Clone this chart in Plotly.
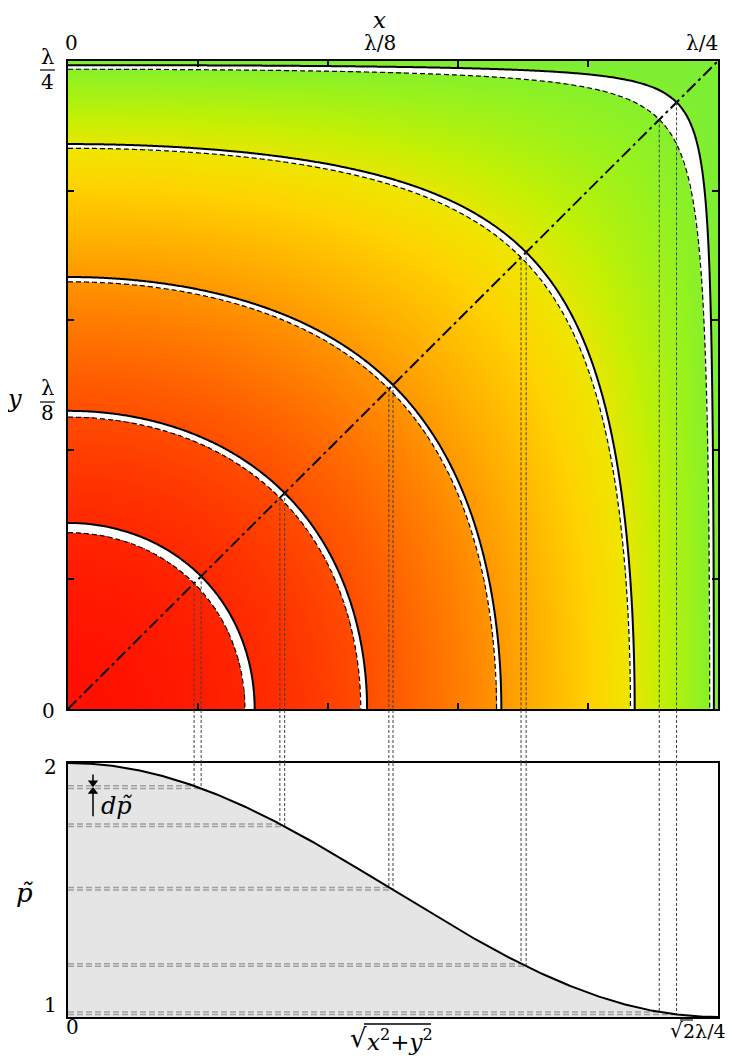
import numpy as np
import plotly.graph_objects as go

# ---------------- data ----------------
# p~ levels of the contour bands (solid = outer edge, dashed = inner edge)
solid_levels = [1.90, 1.75, 1.50, 1.20, 1.01]
dashed_levels = [1.91, 1.76, 1.51, 1.21, 1.02]
# minor tick positions (in units of wavelength): every lambda/20
tick_positions = [0.05, 0.10, 0.15, 0.20]
# axis limits (units of wavelength)
quarter = 0.25                      # lambda/4
diag_max = np.sqrt(2) * quarter     # sqrt(2) lambda/4
p_range = [1.0, 2.0]
# tick label texts
top_labels = ["0", "λ/8", "λ/4"]
bottom_labels = ["0", "√2λ/4"]
p_labels = ["2", "1"]

# ---------------- the field p~(x, y) ----------------
def field(x, y):
    return 1.0 + np.cos(2 * np.pi * x) * np.cos(2 * np.pi * y)

def profile(r):
    return 1.0 + np.cos(2 * np.pi * r / np.sqrt(2)) ** 2

N = 540
g = np.linspace(0, quarter, N)
X, Y = np.meshgrid(g, g)
Z = field(X, Y)
Zh = Z.copy()
for a, b in zip(solid_levels, dashed_levels):
    Zh[(Z >= a) & (Z <= b)] = np.nan
Zh = Zh.astype(np.float32)

gc = np.linspace(0, quarter, 241)
XC, YC = np.meshgrid(gc, gc)
ZC = field(XC, YC)

colorscale = [
    [0.00, "rgb(124,238,52)"],
    [0.05, "rgb(150,242,30)"],
    [0.14, "rgb(196,240,4)"],
    [0.22, "rgb(240,228,0)"],
    [0.30, "rgb(255,210,0)"],
    [0.42, "rgb(255,176,0)"],
    [0.55, "rgb(255,136,0)"],
    [0.70, "rgb(255,92,0)"],
    [0.85, "rgb(255,52,0)"],
    [1.00, "rgb(255,16,0)"],
]

SERIF = "DejaVu Serif"

# layout geometry (pixels); the page body adds an 8px offset
OFF = 8
W, H = 734 - OFF, 1063 - OFF
L, Rm, T, B = 68 - OFF, 16, 61 - OFF, 54 - OFF
PW = W - L - Rm
PH = H - T - B
BOT = OFF + H - B          # absolute pixel y of plot-area bottom (1009)
top_dom = [(BOT - 709) / PH, 1.0]
bot_dom = [0.0, (BOT - 763) / PH]

def px(xp):
    return (xp - OFF - L) / PW

def py(yp):
    return (BOT - yp) / PH

fig = go.Figure()

fig.add_trace(go.Heatmap(x=g, y=g, z=Zh, colorscale=colorscale, zmin=1, zmax=2,
                         showscale=False, hoverinfo="skip", xaxis="x", yaxis="y"))

for a, b in zip(solid_levels, dashed_levels):
    fig.add_trace(go.Contour(x=gc, y=gc, z=ZC, autocontour=False,
                             contours=dict(start=a, end=a, size=0.5, coloring="none"),
                             line=dict(color="black", width=2), showscale=False,
                             hoverinfo="skip", xaxis="x", yaxis="y"))
    fig.add_trace(go.Contour(x=gc, y=gc, z=ZC, autocontour=False,
                             contours=dict(start=b, end=b, size=0.5, coloring="none"),
                             line=dict(color="black", width=1.2, dash="5px,3px"),
                             showscale=False, hoverinfo="skip", xaxis="x", yaxis="y"))

# diagonal
fig.add_trace(go.Scatter(x=[0, quarter], y=[0, quarter], mode="lines",
                         line=dict(color="black", width=2, dash="12px,4px,3px,4px"),
                         hoverinfo="skip", xaxis="x", yaxis="y"))

# bottom panel: filled profile
r = np.linspace(0, diag_max, 400)
fig.add_trace(go.Scatter(x=r, y=profile(r), mode="lines", fill="tozeroy",
                         fillcolor="#e5e5e5", line=dict(width=0), hoverinfo="skip",
                         xaxis="x2", yaxis="y2"))

all_levels = solid_levels + dashed_levels
for p in all_levels:
    xd = np.arccos(np.sqrt(p - 1)) / (2 * np.pi)
    rd = np.sqrt(2) * xd
    fig.add_trace(go.Scatter(x=[0, rd], y=[p, p], mode="lines",
                             line=dict(color="#a0a0a0", width=1.5, dash="6px,3px"),
                             hoverinfo="skip", xaxis="x2", yaxis="y2"))
    fig.add_trace(go.Scatter(x=[xd, xd], y=[xd, 0], mode="lines",
                             line=dict(color="#404040", width=1, dash="3px,2px"),
                             hoverinfo="skip", xaxis="x", yaxis="y"))
    fig.add_trace(go.Scatter(x=[rd, rd], y=[p_range[1], p], mode="lines",
                             line=dict(color="#404040", width=1, dash="3px,2px"),
                             hoverinfo="skip", xaxis="x2", yaxis="y2"))
    fig.add_shape(type="line", xref="x", yref="paper", x0=xd, x1=xd,
                  y0=bot_dom[1], y1=top_dom[0],
                  line=dict(color="#404040", width=1, dash="3px,2px"))

fig.add_trace(go.Scatter(x=r, y=profile(r), mode="lines",
                         line=dict(color="black", width=2), hoverinfo="skip",
                         xaxis="x2", yaxis="y2"))

# d p~ marker arrows (pointing at the first pair of levels)
arrow_r = diag_max * 25 / 650
fig.add_trace(go.Scatter(x=[arrow_r, arrow_r], y=[dashed_levels[0] + 0.045, dashed_levels[0] + 0.012],
                         mode="lines", line=dict(color="black", width=1.5),
                         hoverinfo="skip", xaxis="x2", yaxis="y2"))
fig.add_trace(go.Scatter(x=[arrow_r], y=[dashed_levels[0] + 0.012], mode="markers",
                         marker=dict(symbol="triangle-down", size=9, color="black"),
                         hoverinfo="skip", xaxis="x2", yaxis="y2"))
fig.add_trace(go.Scatter(x=[arrow_r, arrow_r], y=[solid_levels[0] - 0.11, solid_levels[0] - 0.012],
                         mode="lines", line=dict(color="black", width=1.5),
                         hoverinfo="skip", xaxis="x2", yaxis="y2"))
fig.add_trace(go.Scatter(x=[arrow_r], y=[solid_levels[0] - 0.012], mode="markers",
                         marker=dict(symbol="triangle-up", size=9, color="black"),
                         hoverinfo="skip", xaxis="x2", yaxis="y2"))

ax_common = dict(showline=True, linewidth=2, linecolor="black", showgrid=False,
                 zeroline=False)
fig.update_layout(
    width=W, height=H, margin=dict(l=L, r=Rm, t=T, b=B),
    paper_bgcolor="white", plot_bgcolor="white", showlegend=False,
    font=dict(family=SERIF, size=20, color="black"),
    xaxis=dict(domain=[0, 1], anchor="y", range=[0, quarter], ticks="inside",
               tickvals=tick_positions, ticklen=6, tickwidth=1.5, tickcolor="black",
               showticklabels=False, mirror="ticks", **ax_common),
    yaxis=dict(domain=top_dom, anchor="x", range=[0, quarter], ticks="inside",
               tickvals=tick_positions, ticklen=6, tickwidth=1.5, tickcolor="black",
               showticklabels=False, mirror="ticks", **ax_common),
    xaxis2=dict(domain=[0, 1], anchor="y2", range=[0, diag_max], ticks="",
                showticklabels=False, mirror=True, **ax_common),
    yaxis2=dict(domain=bot_dom, anchor="x2", range=p_range, ticks="",
                showticklabels=False, mirror=True, **ax_common),
)

def text(xp, yp, s, size=20, xanchor="center", **kw):
    fig.add_annotation(x=px(xp), y=py(yp), xref="paper", yref="paper", text=s,
                       showarrow=False, xanchor=xanchor, yanchor="middle",
                       font=dict(family=SERIF, size=size, color="black"), **kw)

def hbar(x0, x1, yp, width=1.2):
    fig.add_shape(type="line", xref="paper", yref="paper", x0=px(x0), x1=px(x1),
                  y0=py(yp), y1=py(yp), line=dict(color="black", width=width))

# top axis labels
text(379, 20, "<i>x</i>", size=23)
text(71, 43, top_labels[0])
text(380, 43, top_labels[1])
text(702, 43, top_labels[2])
# left axis labels
text(14, 399, "<i>y</i>", size=24)
text(47, 57, "λ", size=21)
text(47, 82, "4", size=20)
text(47, 388, "λ", size=21)
text(47, 413, "8", size=20)
hbar(40, 55, 70)
hbar(40, 55, 402)
text(48, 711, "0")
# bottom panel labels
text(50, 767, p_labels[0])
text(50, 1005, p_labels[1])
text(25, 893, "<i>p̃</i>", size=26)
text(72, 1027, bottom_labels[0])
# sqrt(x^2+y^2)
text(348, 1038, "√", size=26, xanchor="left")
text(365, 1040, "<i>x</i><sup>2</sup>+<i>y</i><sup>2</sup>", size=23, xanchor="left")
hbar(364, 431, 1024, width=1.3)
# sqrt(2) lambda/4
text(668, 1030, "√", size=20, xanchor="left")
text(681, 1031, bottom_labels[1][1:], size=19, xanchor="left")
hbar(680, 693, 1020, width=1.1)
text(116, 806, "<i>dp̃</i>", size=24)

fig.write_html("out.html")
